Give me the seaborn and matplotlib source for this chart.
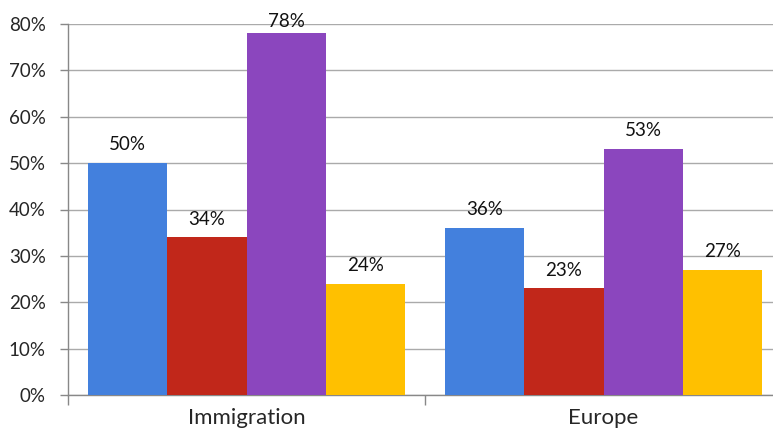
import matplotlib
matplotlib.use("Agg")
import matplotlib.pyplot as plt
import seaborn as sns
import pandas as pd

categories = ["Immigration", "Europe"]
series = ["A", "B", "C", "D"]
values = {
    "A": [50, 36],
    "B": [34, 23],
    "C": [78, 53],
    "D": [24, 27],
}
colors = ["#4380DD", "#C1271A", "#8B46BE", "#FFC000"]
yticks = [0, 10, 20, 30, 40, 50, 60, 70, 80]

rows = []
for s in series:
    for c, v in zip(categories, values[s]):
        rows.append({"category": c, "series": s, "value": v})
df = pd.DataFrame(rows)

sns.set_style("white")
plt.rcParams["font.family"] = ["Lato", "DejaVu Sans"]

fig = plt.figure(figsize=(7.73, 4.30), dpi=100)
ax = fig.add_axes([68 / 773, (430 - 395) / 430, 714 / 773, (395 - 24) / 430])

sns.barplot(data=df, x="category", y="value", hue="series", order=categories,
            hue_order=series, palette=colors, width=0.89, gap=0,
            saturation=1, edgecolor="none", linewidth=0, ax=ax, legend=False, zorder=3)

# data labels (Excel keeps labels inside the plot area, so near-top labels sit lower)
for cont in ax.containers:
    for rect, v in zip(cont.patches, cont.datavalues):
        pad = 2 if v > 74 else 7
        ax.annotate(f"{v:.0f}%", (rect.get_x() + rect.get_width() / 2, rect.get_height()),
                    xytext=(0, pad), textcoords="offset points", ha="center", va="bottom",
                    fontsize=13.5, color="#111111", zorder=5, annotation_clip=False)

ax.set_ylim(0, 80)
ax.set_xlim(-0.5, 1.5)
ax.set_yticks(yticks)
ax.set_yticklabels([f"{t}%" for t in yticks], fontsize=13.5)
ax.yaxis.grid(True, color="#AAAAAA", linewidth=1, zorder=0)
ax.set_axisbelow(True)
ax.set_xlabel("")
ax.set_ylabel("")

ax.set_xticks([-0.5, 0.5, 1.5], minor=True)
ax.set_xticks([0, 1])
ax.set_xticklabels(categories, fontsize=16)
ax.tick_params(axis="x", which="major", length=0, pad=9)
ax.tick_params(axis="x", which="minor", length=7, color="#888888", width=1, direction="out")
ax.tick_params(axis="y", length=6, color="#888888", width=1, direction="out", pad=10)
ax.yaxis.set_tick_params(left=True)
ax.xaxis.set_tick_params(which="minor", bottom=True)

for side in ["top", "right"]:
    ax.spines[side].set_visible(False)
for side in ["left", "bottom"]:
    ax.spines[side].set_color("#888888")
    ax.spines[side].set_linewidth(1)

fig.savefig("out.png", dpi=100)
